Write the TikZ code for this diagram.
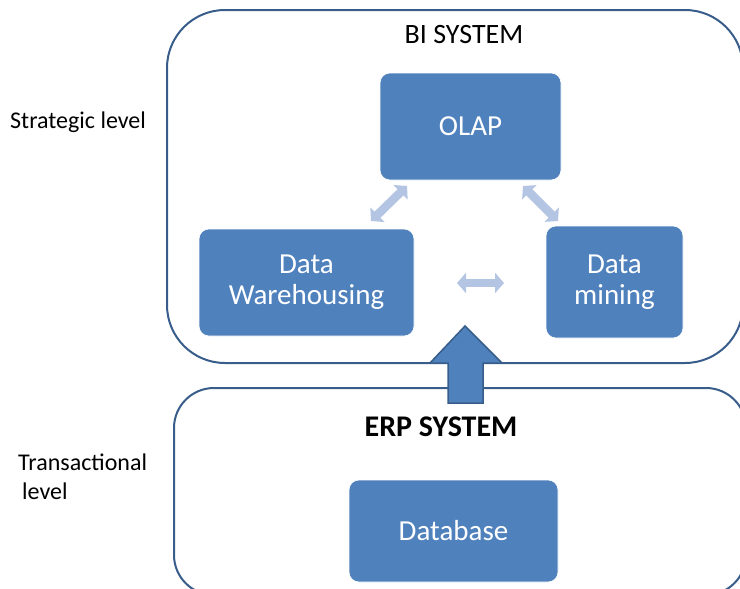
\documentclass[tikz,border=0pt]{standalone}
\usepackage{fontspec}
\setmainfont{Carlito}
\usetikzlibrary{arrows.meta}
\definecolor{boxblue}{HTML}{4F81BD}
\definecolor{lineblue}{HTML}{385D8A}
\definecolor{lightblue}{HTML}{B3C5E3}
\tikzset{
  container/.style={draw=lineblue, line width=2pt},
  bluebox/.style={fill=boxblue, draw=white, line width=0.6pt, rounded corners=10pt, text=white,
    align=center, font=\fontsize{29}{31}\selectfont, inner sep=0pt},
  title/.style={text=black, font=\fontsize{28}{30}\selectfont, inner sep=0pt},
  sidelabel/.style={text=black, font=\fontsize{24}{29}\selectfont, inner sep=0pt, align=left},
  lightarrow/.style={draw=lightblue, line width=8.5pt,
    {Triangle[length=9pt,width=20pt]}-{Triangle[length=9pt,width=20pt]}, shorten <=0pt, shorten >=0pt},
  bigarrow/.style={fill=boxblue, draw=lineblue, line width=1.5pt, line join=miter}
}
\begin{document}
\begin{tikzpicture}[x=1pt,y=-1pt]
\useasboundingbox (0,0) rectangle (740,589);
\clip (0,0) rectangle (740,589);

% containers
\draw[container, rounded corners=58pt] (167,10) rectangle (743,363);
\draw[container, rounded corners=40pt] (174,388) rectangle (746,595);

% titles
\node[title] (bititle) at (464,35) {BI SYSTEM};
\node[title, font=\fontsize{30}{32}\selectfont\bfseries] (erptitle) at (441,427) {ERP SYSTEM};

% side labels
\node[sidelabel, anchor=west] (strategic) at (10,122) {Strategic level};
\node[sidelabel, anchor=north west] (transactional) at (18,454) {Transactional\\\hspace{4pt}level};

% boxes
\node[bluebox, minimum width=181pt, minimum height=107pt] (olap) at (470.5,126.5) {OLAP};
\node[bluebox, minimum width=215pt, minimum height=107pt] (dw) at (306.5,282.5) {Data\\Warehousing};
\node[bluebox, minimum width=137pt, minimum height=112pt] (dm) at (614.5,282) {Data\\mining};
\node[bluebox, minimum width=209pt, minimum height=102pt] (db) at (453.5,531) {Database};

% light double arrows
\coordinate (la1) at (371,221);
\coordinate (la2) at (407,186);
\coordinate (ra1) at (523,186);
\coordinate (ra2) at (558,221);
\coordinate (ma1) at (457,283);
\coordinate (ma2) at (504,283);
\draw[lightarrow] (la1) -- (la2);
\draw[lightarrow] (ra1) -- (ra2);
\draw[lightarrow] (ma1) -- (ma2);

% big arrow from ERP to BI
\coordinate (tip) at (465,326);
\draw[bigarrow] (tip) -- (502,363) -- (483,363) -- (483,403) -- (448,403) -- (448,363) -- (430,363) -- cycle;
\end{tikzpicture}
\end{document}
